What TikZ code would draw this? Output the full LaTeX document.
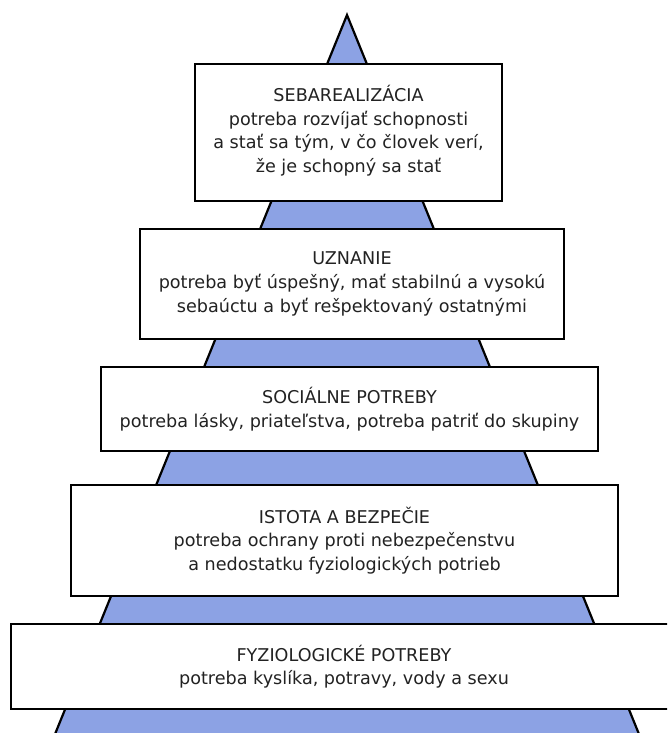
\documentclass[tikz,border=0pt]{standalone}
\usepackage{fontspec}
\setmainfont{DejaVu Sans}
\definecolor{pyrblue}{RGB}{140,162,228}
\definecolor{txt}{RGB}{34,34,34}
\begin{document}
\begin{tikzpicture}[x=1pt,y=-1pt,
  level/.style={draw=black, line width=2.2pt, fill=white, rectangle, inner sep=0pt},
  lbl/.style={align=center, text=txt, font=\fontsize{17.6}{23.6}\selectfont, inner sep=0pt}]
\useasboundingbox (0,0) rectangle (667,733);
\clip (0,0) rectangle (667,733);
% pyramid
\coordinate (apex) at (347,15);
\coordinate (bl) at (44.5,760);
\coordinate (br) at (649.5,760);
\filldraw[fill=pyrblue, draw=black, line width=2.2pt, line join=miter] (bl) -- (apex) -- (br);
% levels
\node[level, minimum width=307, minimum height=137] (b1) at (348.5,132.5) {};
\node[lbl] (t1) at (348.5,130.5) {SEBAREALIZÁCIA\\potreba rozvíjať schopnosti\\a stať sa tým, v čo človek verí,\\že je schopný sa stať};
\node[level, minimum width=424, minimum height=110] (b2) at (352,284) {};
\node[lbl] (t2) at (b2.center) {UZNANIE\\potreba byť úspešný, mať stabilnú a vysokú\\sebaúctu a byť rešpektovaný ostatnými};
\node[level, minimum width=497, minimum height=84] (b3) at (349.5,409) {};
\node[lbl] (t3) at (b3.center) {SOCIÁLNE POTREBY\\potreba lásky, priateľstva, potreba patriť do skupiny};
\node[level, minimum width=547, minimum height=111] (b4) at (344.5,540.5) {};
\node[lbl] (t4) at (b4.center) {ISTOTA A BEZPEČIE\\potreba ochrany proti nebezpečenstvu\\a nedostatku fyziologických potrieb};
\node[level, minimum width=689, minimum height=85] (b5) at (355.5,666.5) {};
\node[lbl] (t5) at (344,666.5) {FYZIOLOGICKÉ POTREBY\\potreba kyslíka, potravy, vody a sexu};
\end{tikzpicture}
\end{document}
